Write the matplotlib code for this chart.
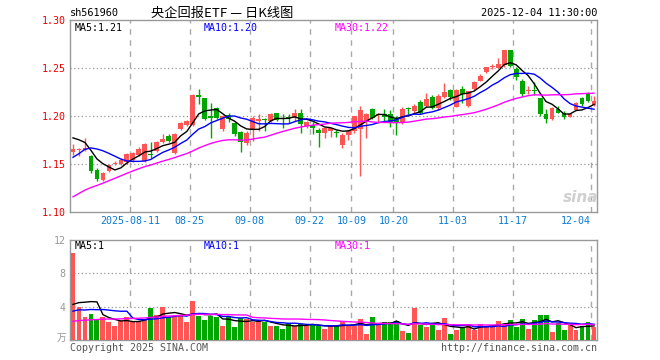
import matplotlib
matplotlib.use('Agg')
import matplotlib.pyplot as plt
import numpy as np

# ---------------- data ----------------
code = "sh561960"
title = "央企回报ETF — 日K线图"
timestamp = "2025-12-04 11:30:00"
tick_labels = ["2025-08-11", "08-25", "09-08", "09-22", "10-09", "10-20", "11-03", "11-17", "12-04"]
tick_index = [10, 20, 30, 40, 47, 54, 64, 74, 87]

opens = [1.162, 1.165, 1.165, 1.158, 1.144, 1.133, 1.143, 1.150, 1.150, 1.1516,
         1.154, 1.1597, 1.153, 1.160, 1.1637, 1.173, 1.179, 1.1615, 1.186, 1.1905,
         1.191, 1.2215, 1.2186, 1.2005, 1.208, 1.186, 1.201, 1.1925, 1.183, 1.172,
         1.186, 1.195, 1.1965, 1.195, 1.2028, 1.198, 1.199, 1.1975, 1.2035, 1.1895,
         1.191, 1.185, 1.1825, 1.184, 1.1835, 1.1695, 1.180, 1.184, 1.186, 1.1947,
         1.207, 1.2015, 1.2025, 1.2025, 1.1965, 1.1925, 1.2075, 1.205, 1.2145, 1.2105,
         1.2194, 1.208, 1.2194, 1.227, 1.2095, 1.228, 1.210, 1.228, 1.2368, 1.2457,
         1.251, 1.2502, 1.2534, 1.2684, 1.249, 1.2368, 1.226, 1.2268, 1.2183, 1.2018,
         1.1965, 1.2078, 1.2036, 1.1994, 1.2063, 1.2183, 1.2236, 1.2113]
highs = [1.171, 1.1665, 1.177, 1.159, 1.1457, 1.142, 1.150, 1.153, 1.156, 1.161,
         1.163, 1.168, 1.172, 1.173, 1.174, 1.1815, 1.1815, 1.182, 1.194, 1.196,
         1.223, 1.228, 1.219, 1.214, 1.2095, 1.201, 1.203, 1.194, 1.1845, 1.184,
         1.200, 1.2018, 1.1975, 1.203, 1.2035, 1.202, 1.2025, 1.207, 1.207, 1.195,
         1.194, 1.188, 1.189, 1.188, 1.185, 1.1825, 1.1855, 1.2005, 1.2105, 1.2035,
         1.2085, 1.2035, 1.207, 1.2063, 1.1995, 1.209, 1.2095, 1.213, 1.2165, 1.2236,
         1.2215, 1.2225, 1.234, 1.2285, 1.2285, 1.2316, 1.2265, 1.2362, 1.2435, 1.2515,
         1.2545, 1.2600, 1.2684, 1.2684, 1.251, 1.2386, 1.231, 1.2358, 1.2186, 1.207,
         1.2098, 1.210, 1.205, 1.2035, 1.2147, 1.2193, 1.225, 1.2204]
lows = [1.159, 1.158, 1.164, 1.141, 1.1326, 1.132, 1.142, 1.149, 1.149, 1.150,
        1.152, 1.158, 1.152, 1.156, 1.162, 1.172, 1.1726, 1.1605, 1.1855, 1.1895,
        1.190, 1.2123, 1.1955, 1.177, 1.1965, 1.1845, 1.194, 1.179, 1.163, 1.170,
        1.174, 1.184, 1.184, 1.1935, 1.195, 1.188, 1.193, 1.1947, 1.1825, 1.188,
        1.181, 1.168, 1.177, 1.178, 1.178, 1.1667, 1.1755, 1.1825, 1.1376, 1.177,
        1.197, 1.1925, 1.194, 1.1888, 1.1807, 1.192, 1.202, 1.2035, 1.2025, 1.2095,
        1.207, 1.206, 1.219, 1.2165, 1.209, 1.214, 1.209, 1.227, 1.236, 1.2452,
        1.2488, 1.2500, 1.251, 1.251, 1.2375, 1.221, 1.2228, 1.2218, 1.200, 1.193,
        1.1955, 1.203, 1.197, 1.1985, 1.206, 1.2105, 1.2148, 1.2105]
closes = [1.166, 1.166, 1.167, 1.143, 1.1345, 1.141, 1.149, 1.1515, 1.154, 1.160,
          1.1614, 1.166, 1.171, 1.159, 1.173, 1.1765, 1.1737, 1.181, 1.193, 1.195,
          1.222, 1.220, 1.1965, 1.1975, 1.198, 1.200, 1.1965, 1.181, 1.173, 1.182,
          1.198, 1.1965, 1.1955, 1.202, 1.1958, 1.197, 1.1975, 1.2035, 1.1913, 1.1935,
          1.188, 1.1825, 1.188, 1.187, 1.1825, 1.1807, 1.1845, 1.200, 1.2063, 1.2018,
          1.1983, 1.2025, 1.1985, 1.1937, 1.1937, 1.2075, 1.207, 1.2105, 1.2035, 1.2175,
          1.2088, 1.221, 1.2246, 1.2194, 1.227, 1.2228, 1.2257, 1.2352, 1.242, 1.251,
          1.2526, 1.2537, 1.2684, 1.2516, 1.2404, 1.2228, 1.2275, 1.2263, 1.2018, 1.1965,
          1.2088, 1.2036, 1.1994, 1.2025, 1.214, 1.2123, 1.2158, 1.2158]
volumes = [10.43, 3.99, 2.74, 3.18, 2.54, 2.78, 2.2, 1.65, 2.26, 2.78,
           2.13, 2.26, 2.54, 3.79, 3.06, 3.95, 2.74, 2.94, 3.06, 2.2,
           4.67, 2.94, 2.38, 2.94, 2.74, 1.65, 2.78, 1.53, 2.62, 2.54,
           2.13, 2.38, 2.13, 1.65, 1.65, 1.33, 2.05, 1.73, 1.93, 1.73,
           1.93, 1.65, 1.33, 1.73, 1.65, 2.34, 1.73, 1.73, 2.58, 0.77,
           2.82, 1.85, 2.2, 2.2, 2.34, 1.13, 0.89, 3.79, 1.85, 1.61,
           1.85, 1.25, 2.7, 0.77, 1.25, 1.45, 1.85, 1.25, 1.97, 1.53,
           1.85, 2.34, 1.97, 2.46, 1.61, 2.58, 1.37, 2.38, 3.06, 3.06,
           1.0, 2.05, 1.25, 1.85, 1.25, 1.65, 2.2, 1.53]
# closes / volumes of the 29 sessions before the visible window (feed the moving averages)
prior_closes = [1.060, 1.062, 1.065, 1.068, 1.070, 1.072, 1.075, 1.078, 1.081, 1.086,
                1.098, 1.104, 1.109, 1.113, 1.116, 1.120, 1.124, 1.128, 1.135, 1.140,
                1.128, 1.122, 1.129, 1.145, 1.160, 1.176, 1.181, 1.184, 1.179]
prior_volumes = [1.4, 1.8, 1.5, 1.6, 1.3, 1.9, 1.7, 1.5, 1.6, 1.8,
                 1.4, 1.7, 1.9, 1.5, 1.6, 1.8, 1.7, 1.6, 1.9, 1.7,
                 2.4, 2.9, 2.6, 2.8, 2.55, 2.9, 2.5, 2.82, 2.7]
ma_labels = ["MA5:1.21", "MA10:1.20", "MA30:1.22"]
vol_ma_labels = ["MA5:1", "MA10:1", "MA30:1"]
ma_periods = [5, 10, 30]

# ---------------- style ----------------
RED = '#ff5555'
GREEN = '#00a600'
MA_COLORS = ['#000000', '#0000ff', '#ff00ff']
GRID = '#aaaaaa'
MONO = 'DejaVu Sans Mono'
CJK = ['Noto Sans CJK SC', 'DejaVu Sans']

W, H = 660, 360
fig = plt.figure(figsize=(W / 100, H / 100), dpi=100)
fig.patch.set_facecolor('white')
L, R = 70 / W, 597 / W
ax = fig.add_axes([L, 1 - 212 / H, R - L, 192 / H])
axv = fig.add_axes([L, 1 - 340 / H, R - L, 100 / H])

n = len(closes)
x = np.arange(n)
o = np.array(opens); c = np.array(closes); h = np.array(highs); lo = np.array(lows)
up = c >= o
cols = [RED if u else GREEN for u in up]


def moving_avg(prior, vals, p):
    full = np.array(list(prior) + list(vals))
    off = len(prior)
    return np.array([full[off + i - p + 1: off + i + 1].mean() for i in range(len(vals))])


# candles
ax.vlines(x, lo, h, colors=cols, linewidth=1, zorder=2)
body_bottom = np.minimum(o, c)
body_h = np.maximum(np.abs(c - o), 0.0009)
ax.bar(x, body_h, bottom=body_bottom, width=0.8, color=cols, linewidth=0, zorder=3)
for p, col in zip(ma_periods, MA_COLORS):
    ax.plot(x, moving_avg(prior_closes, closes, p), color=col, linewidth=1, zorder=4)

ax.set_xlim(-0.5, n - 0.5)
ax.set_ylim(1.10, 1.30)
grid_x = [t - 0.5 for t in tick_index]
for gx in grid_x:
    ax.axvline(gx, color=GRID, linewidth=1, linestyle=(0, (4, 4)), zorder=1)
for gy in [1.15, 1.20, 1.25]:
    ax.axhline(gy, color='#999999', linewidth=0.9, linestyle=(0, (1, 2)), zorder=1)
ax.set_yticks([1.10, 1.15, 1.20, 1.25, 1.30])
ax.set_yticklabels(['1.10', '1.15', '1.20', '1.25', '1.30'], fontfamily=MONO, fontsize=7.2, color='#ee0000')
ax.set_xticks(grid_x)
ax.set_xticklabels(tick_labels, fontfamily=MONO, fontsize=7.2, color='#0a7ad8')
ax.get_xticklabels()[-1].set_horizontalalignment('right')
ax.tick_params(axis='both', length=0, pad=3)
for s in ax.spines.values():
    s.set_color('#999999'); s.set_linewidth(1)

# volume
axv.bar(x, volumes, width=0.82, color=cols, linewidth=0, zorder=3)
for p, col in zip(ma_periods, MA_COLORS):
    axv.plot(x, moving_avg(prior_volumes, volumes, p), color=col, linewidth=1, zorder=4)
axv.set_xlim(-0.5, n - 0.5)
axv.set_ylim(0, 12)
for gx in grid_x:
    axv.axvline(gx, color=GRID, linewidth=1, linestyle=(0, (4, 4)), zorder=1)
for gy in [4, 8]:
    axv.axhline(gy, color='#999999', linewidth=0.9, linestyle=(0, (1, 2)), zorder=1)
axv.set_yticks([4, 8, 12])
axv.set_yticklabels(['4', '8', '12'], fontfamily=MONO, fontsize=7.2, color='#999999')
axv.set_xticks([])
axv.tick_params(axis='both', length=0, pad=3)
for s in axv.spines.values():
    s.set_color('#999999'); s.set_linewidth(1)


def ftext(px, py, s, **kw):
    fig.text(px / W, 1 - py / H, s, **kw)


ftext(70, 13, code, fontfamily=MONO, fontsize=7.4, va='center', ha='left', color='#000000')
ftext(222, 13, title, fontfamily=CJK, fontsize=9.5, va='center', ha='center', color='#000000')
ftext(597, 13, timestamp, fontfamily=MONO, fontsize=7.4, va='center', ha='right', color='#000000')
for lbl, px, col in zip(ma_labels, [75, 204, 335], MA_COLORS):
    ftext(px, 28, lbl, fontfamily=MONO, fontsize=7.2, va='center', ha='left', color=col)
for lbl, px, col in zip(vol_ma_labels, [75, 204, 335], MA_COLORS):
    ftext(px, 246, lbl, fontfamily=MONO, fontsize=7.2, va='center', ha='left', color=col)
ftext(66, 338, "万", fontfamily=CJK, fontsize=7, va='center', ha='right', color='#999999')
ftext(70, 348, "Copyright 2025 SINA.COM", fontfamily=MONO, fontsize=7.2, va='center', ha='left', color='#555555')
ftext(597, 348, "http://finance.sina.com.cn", fontfamily=MONO, fontsize=7.2, va='center', ha='right', color='#555555')
ftext(598, 197, "sina", fontfamily='DejaVu Sans', fontsize=11, fontweight='bold', fontstyle='italic',
      va='center', ha='right', color='#d0d0d0')

fig.savefig('out.png', dpi=100, facecolor='white')
